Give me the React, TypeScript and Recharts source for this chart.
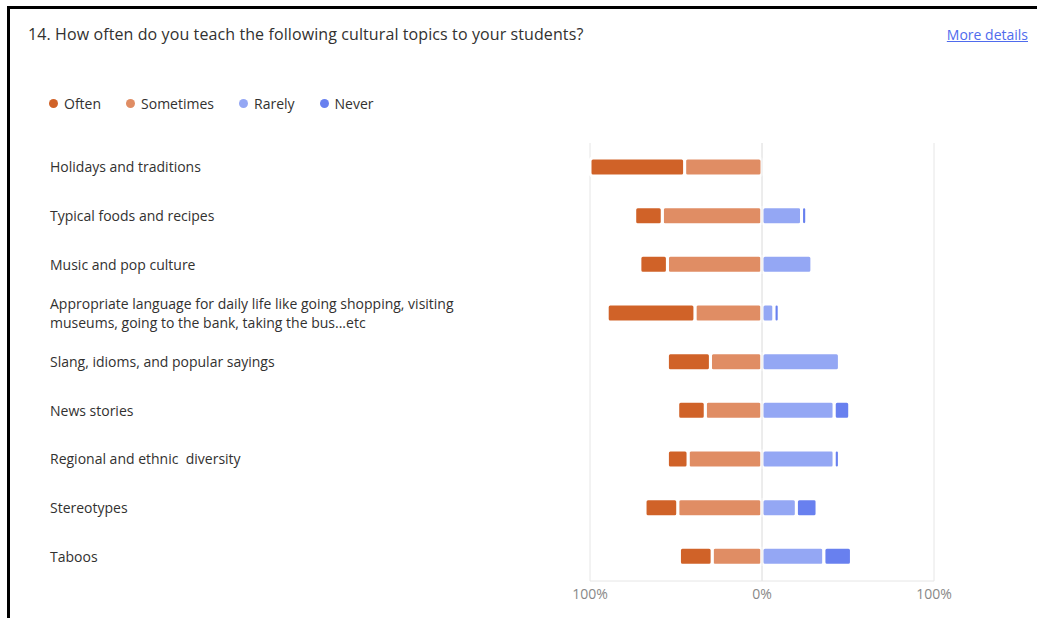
import React from 'react';
import { BarChart, Bar, XAxis, YAxis, CartesianGrid, ReferenceLine } from 'recharts';

// topics, top to bottom
const categories: string[] = [
  'Holidays and traditions',
  'Typical foods and recipes',
  'Music and pop culture',
  'Appropriate language for daily life like going shopping, visiting museums, going to the bank, taking the bus...etc',
  'Slang, idioms, and popular sayings',
  'News stories',
  'Regional and ethnic  diversity',
  'Stereotypes',
  'Taboos',
];

// share of answers, in %
const often: number[] = [55, 16, 16, 51, 25, 16, 12, 19, 19];
const sometimes: number[] = [45, 58, 55, 39, 30, 33, 43, 49, 29];
const rarely: number[] = [0, 23, 29, 7, 45, 42, 42, 20, 36];
const never: number[] = [0, 3, 0, 3, 0, 9, 3, 12, 16];

const xTicks: number[] = [-100, 0, 100];

const COLORS = {
  often: '#D06228',
  sometimes: '#E08D64',
  rarely: '#94A7F4',
  never: '#6880EF',
};

const legendItems = [
  { name: 'Often', color: COLORS.often },
  { name: 'Sometimes', color: COLORS.sometimes },
  { name: 'Rarely', color: COLORS.rarely },
  { name: 'Never', color: COLORS.never },
];

// negative side = often / sometimes, positive side = rarely / never
const data = categories.map((name, i) => ({
  name,
  sometimes: -sometimes[i],
  often: -often[i],
  rarely: rarely[i],
  never: never[i],
}));

const FONT = '"Open Sans", "Noto Sans", sans-serif';
const MAX_CHARS = 66;
const LINE_H = 19;

// split long labels on word boundaries
const wrap = (s: string): string[] => {
  const words = s.split(' ');
  const lines: string[] = [];
  let cur = '';
  words.forEach((w) => {
    const next = cur === '' ? w : cur + ' ' + w;
    if (next.length > MAX_CHARS && cur !== '') {
      lines.push(cur);
      cur = w;
    } else {
      cur = next;
    }
  });
  if (cur !== '') lines.push(cur);
  return lines;
};

const CategoryTick = (props: any) => {
  const { y, payload } = props;
  const lines = wrap(payload.value);
  const first = -((lines.length - 1) * LINE_H) / 2 + 5;
  return (
    <text x={50} y={y} fill="#323130" style={{ fontSize: 14, fontFamily: FONT, whiteSpace: 'pre' }}>
      {lines.map((l, i) => (
        <tspan key={i} x={50} y={y + first + i * LINE_H}>
          {l}
        </tspan>
      ))}
    </text>
  );
};

const App: React.FC = () => {
  return (
    <div
      style={{
        position: 'absolute',
        left: 0,
        top: 0,
        width: 1037,
        height: 618,
        background: '#fff',
        overflow: 'hidden',
        fontFamily: FONT,
      }}
    >
      {/* frame */}
      <div style={{ position: 'absolute', left: 7, top: 6, width: 1040, height: 2.5, background: '#000' }} />
      <div style={{ position: 'absolute', left: 7, top: 6, width: 2.5, height: 620, background: '#000' }} />

      <div
        style={{
          position: 'absolute',
          left: 28,
          top: 23,
          fontSize: 16,
          letterSpacing: 0.1,
          color: '#323130',
          whiteSpace: 'nowrap',
        }}
      >
        14. How often do you teach the following cultural topics to your students?
      </div>
      <div
        style={{
          position: 'absolute',
          right: 9,
          top: 25,
          fontSize: 14,
          color: '#4F6BED',
          textDecoration: 'underline',
          whiteSpace: 'nowrap',
        }}
      >
        More details
      </div>

      {/* legend */}
      <div style={{ position: 'absolute', left: 49, top: 94, display: 'flex', fontSize: 14, color: '#323130' }}>
        {legendItems.map((it) => (
          <div key={it.name} style={{ display: 'flex', alignItems: 'center', marginRight: 25 }}>
            <span
              style={{
                display: 'inline-block',
                width: 9,
                height: 9,
                borderRadius: '50%',
                background: it.color,
                marginRight: 6,
              }}
            />
            <span>{it.name}</span>
          </div>
        ))}
      </div>

      <div style={{ position: 'absolute', left: 0, top: 0 }}>
        <BarChart
          width={1037}
          height={618}
          data={data}
          layout="vertical"
          stackOffset="sign"
          margin={{ top: 143, right: 103, bottom: 7, left: 0 }}
        >
          <CartesianGrid horizontal={false} stroke="#E6E6E6" />
          <XAxis
            type="number"
            domain={[-100, 100]}
            ticks={xTicks}
            tickFormatter={(v: number) => `${Math.abs(v)}%`}
            axisLine={{ stroke: '#E6E6E6' }}
            tickLine={false}
            tick={{ fill: '#888', fontSize: 14, fontFamily: FONT }}
            height={30}
          />
          <YAxis
            type="category"
            dataKey="name"
            width={590}
            axisLine={false}
            tickLine={false}
            tick={<CategoryTick />}
            interval={0}
          />
          <Bar dataKey="sometimes" stackId="a" fill={COLORS.sometimes} stroke="#fff" strokeWidth={3} barSize={18} radius={3} isAnimationActive={false} />
          <Bar dataKey="often" stackId="a" fill={COLORS.often} stroke="#fff" strokeWidth={3} barSize={18} radius={3} isAnimationActive={false} />
          <Bar dataKey="rarely" stackId="a" fill={COLORS.rarely} stroke="#fff" strokeWidth={3} barSize={18} radius={3} isAnimationActive={false} />
          <Bar dataKey="never" stackId="a" fill={COLORS.never} stroke="#fff" strokeWidth={3} barSize={18} radius={3} isAnimationActive={false} />
          <ReferenceLine x={0} stroke="#E6E6E6" />
        </BarChart>
      </div>
    </div>
  );
};

export default App;
